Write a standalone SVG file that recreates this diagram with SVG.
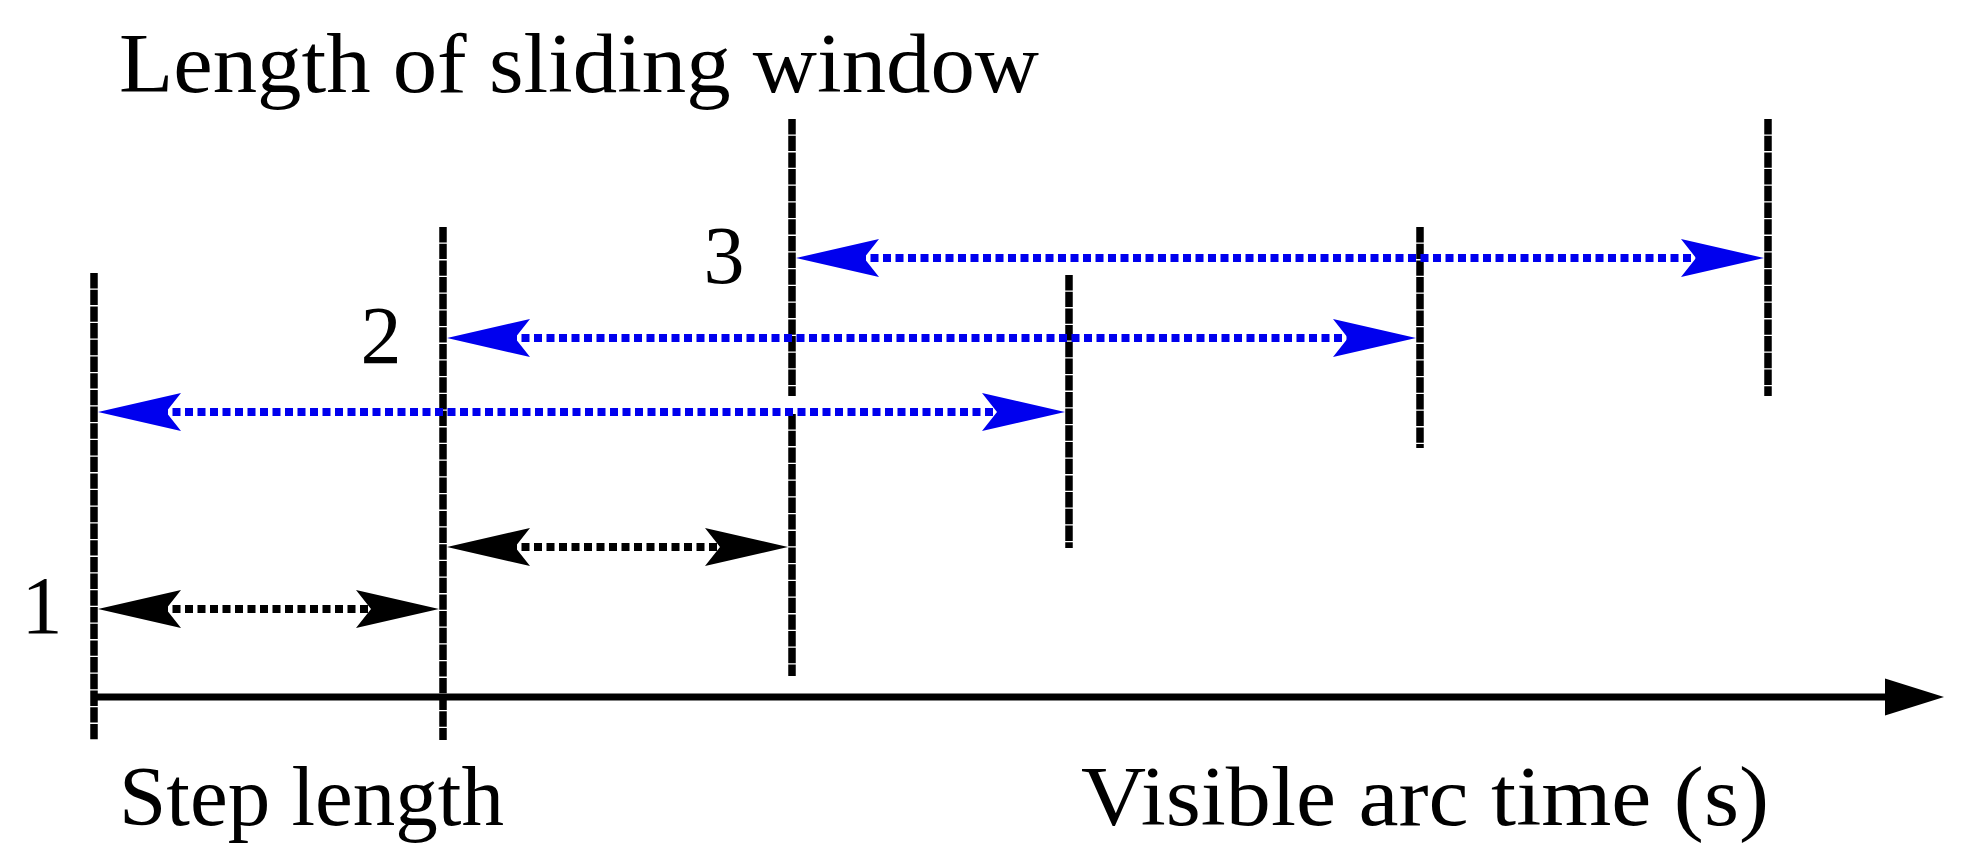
<svg xmlns="http://www.w3.org/2000/svg" width="1963" height="868" viewBox="0 0 1963 868">
  <style>
    .txt { font-family: "Liberation Serif", "DejaVu Serif", serif; fill: #000; }
    .vline { stroke: #000; stroke-width: 7.5; stroke-linecap: butt; stroke-dasharray: 15.4 1.3; fill: none; }
    .blue { stroke: #0000ee; stroke-width: 8; stroke-dasharray: 8 4.5; fill: none; }
    .black { stroke: #000; stroke-width: 8; stroke-dasharray: 8 4.5; fill: none; }
    .axis { stroke: #000; stroke-width: 7; fill: none; }
  </style>
  <defs>
    <path id="headR" d="M0,0 L-83,-19 L-68,0 L-83,19 Z"/>
    <path id="headL" d="M0,0 L83,-19 L68,0 L83,19 Z"/>
  </defs>
  <rect width="1963" height="868" fill="#fff"/>

  <g id="title">
    <text class="txt" x="119" y="92" font-size="84" textLength="920" lengthAdjust="spacingAndGlyphs">Length of sliding window</text>
  </g>

  <g id="axis">
    <line class="axis" x1="94" y1="697" x2="1890" y2="697"/>
    <path d="M1944,697 L1885,678.5 L1885,715.5 Z" fill="#000"/>
  </g>

  <g id="markers">
    <line class="vline" x1="94" y1="273" x2="94" y2="740"/>
    <line class="vline" x1="443" y1="227" x2="443" y2="740"/>
    <line class="vline" x1="792" y1="119" x2="792" y2="396"/>
    <line class="vline" x1="792" y1="414" x2="792" y2="676"/>
    <line class="vline" x1="1069" y1="275" x2="1069" y2="548"/>
    <line class="vline" x1="1420" y1="227" x2="1420" y2="448"/>
    <line class="vline" x1="1768" y1="119" x2="1768" y2="396"/>
  </g>

  <g id="labels">
    <text class="txt" x="42" y="633" font-size="82" text-anchor="middle">1</text>
    <text class="txt" x="381" y="363" font-size="82" text-anchor="middle">2</text>
    <text class="txt" x="724" y="283" font-size="82" text-anchor="middle">3</text>
    <text class="txt" x="119" y="825" font-size="84" textLength="385" lengthAdjust="spacingAndGlyphs">Step length</text>
    <text class="txt" x="1081" y="825" font-size="84" textLength="688" lengthAdjust="spacingAndGlyphs">Visible arc time (s)</text>
  </g>

  <g id="connectors">
    <line class="blue" x1="160" y1="412" x2="1000" y2="412"/>
    <use href="#headL" x="98" y="412" fill="#0000ee"/>
    <use href="#headR" x="1065" y="412" fill="#0000ee"/>

    <line class="blue" x1="509" y1="338" x2="1350" y2="338"/>
    <use href="#headL" x="447" y="338" fill="#0000ee"/>
    <use href="#headR" x="1416" y="338" fill="#0000ee"/>

    <line class="blue" x1="858" y1="258" x2="1700" y2="258"/>
    <use href="#headL" x="796" y="258" fill="#0000ee"/>
    <use href="#headR" x="1764" y="258" fill="#0000ee"/>

    <line class="black" x1="160" y1="609" x2="375" y2="609"/>
    <use href="#headL" x="98" y="609" fill="#000"/>
    <use href="#headR" x="439" y="609" fill="#000"/>

    <line class="black" x1="509" y1="547" x2="724" y2="547"/>
    <use href="#headL" x="447" y="547" fill="#000"/>
    <use href="#headR" x="788" y="547" fill="#000"/>
  </g>
</svg>
